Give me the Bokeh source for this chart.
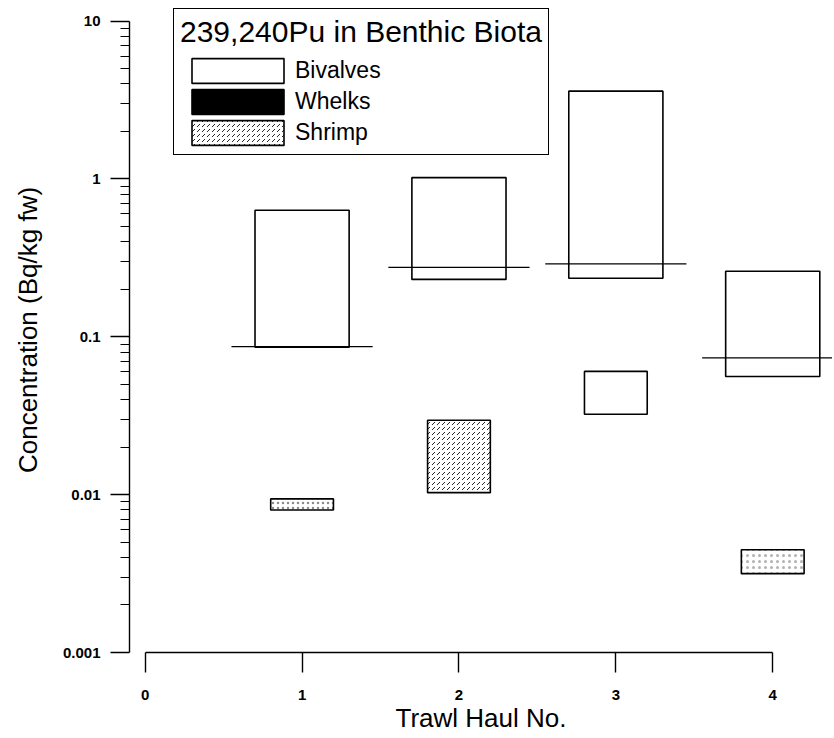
import numpy as np
from bokeh.plotting import figure
from bokeh.models import (ColumnDataSource, Range1d, Legend, LegendItem,
                          FixedTicker)
from bokeh.embed import file_html
from bokeh.resources import INLINE

# ---- data ----
hauls = [1, 2, 3, 4]
bivalve_low = [0.086, 0.231, 0.235, 0.056]
bivalve_high = [0.634, 1.02, 3.6, 0.26]
# whelks: listed in the legend, no values plotted
whelk_hauls = [2]
whelk_low = [float("nan")]
whelk_high = [float("nan")]
shrimp_low = [0.0080, 0.0103, 0.0323, 0.00316]
shrimp_high = [0.0094, 0.0296, 0.0604, 0.00448]
level_values = [0.0866, 0.275, 0.29, 0.0735]
x_ticks = [0, 1, 2, 3, 4]
y_ticks = [0.001, 0.01, 0.1, 1, 10]
y_tick_labels = ["0.001", "0.01", "0.1", "1", "10"]

FONT = "Liberation Sans"
BIV_W = 0.6
SHR_W = 0.4
LINE_HALF = 0.45

p = figure(frame_width=703, frame_height=645,
           x_range=Range1d(-0.1, 4.381), y_range=Range1d(0.001, 12.2),
           y_axis_type="log", output_backend="svg", toolbar_location=None,
           min_border_left=129, min_border_right=0, min_border_top=7,
           min_border_bottom=0)
p.outline_line_color = None
p.grid.grid_line_color = None
p.background_fill_color = "white"

# bivalves
rb = p.vbar(x=hauls, bottom=bivalve_low, top=bivalve_high, width=BIV_W,
            fill_color="white", line_color="black", line_width=1.6)
# whelks
rw = p.vbar(x=whelk_hauls, bottom=whelk_low, top=whelk_high, width=BIV_W,
            fill_color="black", line_color="black", line_width=1.6)
# shrimp (stippled)
shrimp_src = ColumnDataSource(dict(
    x=hauls, bottom=shrimp_low, top=shrimp_high,
    hatch=[".", ",", " ", "."],
    hscale=[5.0, 5.0, 10.0, 6.0],
    hweight=[0.5, 1.0, 0.5, 0.5],
    halpha=[0.45, 0.85, 0.5, 0.3],
))
rs = p.vbar(x="x", bottom="bottom", top="top", width=SHR_W, source=shrimp_src,
            fill_color="white", line_color="black", line_width=1.6,
            hatch_pattern="hatch", hatch_scale="hscale", hatch_color="black",
            hatch_weight="hweight", hatch_alpha="halpha")

# horizontal reference lines
hx = np.array(hauls, dtype=float)
p.segment(x0=hx - LINE_HALF, x1=hx + LINE_HALF, y0=level_values,
          y1=level_values, line_color="black", line_width=1.3)

# axes
xa = p.xaxis[0]
xa.ticker = FixedTicker(ticks=x_ticks)
xa.bounds = (0, 4)
xa.axis_label = "Trawl Haul No."
ya = p.yaxis[0]
ya.ticker = FixedTicker(ticks=y_ticks,
                        minor_ticks=[d * k for d in y_ticks[:-1] for k in range(2, 10)])
ya.bounds = (0.001, 10)
ya.major_label_overrides = {t: l for t, l in zip(y_ticks, y_tick_labels)}
ya.axis_label = "Concentration (Bq/kg fw)"

for ax in (xa, ya):
    ax.axis_line_color = "black"
    ax.axis_line_width = 1.4
    ax.major_tick_line_color = "black"
    ax.major_tick_line_width = 1.4
    ax.minor_tick_line_color = "black"
    ax.minor_tick_line_width = 1.2
    ax.major_tick_in = 0
    ax.minor_tick_in = 0
    ax.major_label_text_font = FONT
    ax.major_label_text_font_size = "15px"
    ax.major_label_text_font_style = "bold"
    ax.major_label_text_color = "black"
    ax.axis_label_text_font = FONT
    ax.axis_label_text_font_size = "26px"
    ax.axis_label_text_font_style = "normal"
    ax.axis_label_text_color = "black"

xa.major_tick_out = 20
xa.minor_tick_out = 0
xa.major_label_standoff = 17
xa.axis_label_standoff = 0
ya.major_tick_out = 19
ya.minor_tick_out = 9
ya.major_label_standoff = 10
ya.axis_label_standoff = 17

legend = Legend(items=[
    LegendItem(label="Bivalves", renderers=[rb]),
    LegendItem(label="Whelks", renderers=[rw]),
    LegendItem(label="Shrimp", renderers=[rs], index=1),
], location=(44, 497), title="239,240Pu in Benthic Biota")
legend.title_text_font = FONT
legend.title_text_font_size = "30px"
legend.title_text_font_style = "normal"
legend.title_text_color = "black"
legend.title_standoff = 6
legend.label_text_font = FONT
legend.label_text_font_size = "23px"
legend.label_text_color = "black"
legend.glyph_width = 115
legend.glyph_height = 31
legend.label_height = 31
legend.label_standoff = 0
legend.spacing = 0
legend.padding = 6
legend.margin = 0
legend.border_line_color = "black"
legend.border_line_alpha = 1.0
legend.border_line_width = 1.5
legend.background_fill_color = "white"
legend.background_fill_alpha = 1.0
p.add_layout(legend)

open("out.html", "w").write(file_html(p, INLINE))
